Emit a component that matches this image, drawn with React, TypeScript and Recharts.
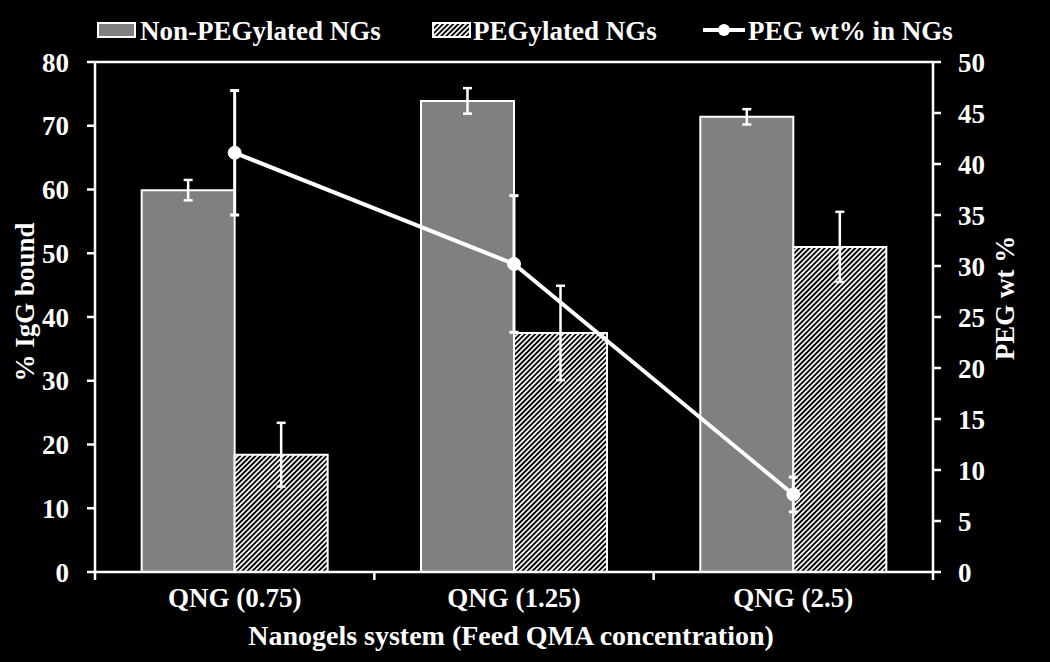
import React from "react";
import {
  ComposedChart,
  Bar,
  Line,
  XAxis,
  YAxis,
  ErrorBar,
  ReferenceLine,
} from "recharts";

const categories = ["QNG (0.75)", "QNG (1.25)", "QNG (2.5)"];
const nonPegylated = [59.9, 73.9, 71.4];
const nonPegylatedErr = [1.6, 2.0, 1.2];
const pegylated = [18.4, 37.5, 51.0];
const pegylatedErr = [5.0, 7.4, 5.5];
const pegWt = [41.1, 30.2, 7.6];
const pegWtErr = [6.1, 6.7, 1.7];
const leftTicks = [0, 10, 20, 30, 40, 50, 60, 70, 80];
const rightTicks = [0, 5, 10, 15, 20, 25, 30, 35, 40, 45, 50];

const data = categories.map((name, i) => ({
  name,
  nonPeg: nonPegylated[i],
  nonPegErr: nonPegylatedErr[i],
  peg: pegylated[i],
  pegErr: pegylatedErr[i],
  pegWt: pegWt[i],
  pegWtErr: pegWtErr[i],
}));

const W = 1050;
const H = 662;
const PLOT_LEFT = 95;
const PLOT_RIGHT = 933;
const PLOT_TOP = 62;
const PLOT_BOTTOM = 572;
const FONT = "'Liberation Serif', 'Times New Roman', serif";
const FS = 27;
const GRAY = "#808080";

const textStyle = { fontFamily: FONT, fontWeight: 700, fontSize: FS, fill: "#fff" };

function XTick(props: any) {
  const { x, y, payload, index } = props;
  const half = (PLOT_RIGHT - PLOT_LEFT) / categories.length / 2;
  return (
    <g>
      <line x1={x - half} y1={y} x2={x - half} y2={y + 8} stroke="#fff" strokeWidth={2.5} />
      {index === categories.length - 1 && (
        <line x1={x + half} y1={y} x2={x + half} y2={y + 8} stroke="#fff" strokeWidth={2.5} />
      )}
      <text x={x} y={y + 35} textAnchor="middle" style={textStyle}>
        {payload.value}
      </text>
    </g>
  );
}

function HatchDef({ id }: { id: string }) {
  return (
    <pattern id={id} width={3.6} height={3.6} patternUnits="userSpaceOnUse" patternTransform="rotate(45)">
      <rect width={3.6} height={3.6} fill="#000" />
      <rect width={1.7} height={3.6} fill="#fff" />
    </pattern>
  );
}

function LegendBar() {
  return (
    <svg width={W} height={50} style={{ position: "absolute", left: 0, top: 0 }}>
      <defs>
        <HatchDef id="hatchLegend" />
      </defs>
      <rect x={98} y={23} width={37} height={14} fill={GRAY} stroke="#fff" strokeWidth={2} />
      <text x={140} y={40} style={textStyle}>Non-PEGylated NGs</text>
      <rect x={433} y={23} width={37} height={14} fill="url(#hatchLegend)" stroke="#fff" strokeWidth={2} />
      <text x={473} y={40} style={textStyle}>PEGylated NGs</text>
      <line x1={703} y1={30} x2={745} y2={30} stroke="#fff" strokeWidth={4} />
      <circle cx={724} cy={30} r={6} fill="#fff" />
      <text x={748} y={40} style={textStyle}>PEG wt% in NGs</text>
    </svg>
  );
}

export default function App() {
  return (
    <div style={{ position: "absolute", left: 0, top: 0, width: W, height: H, background: "#000" }}>
      <ComposedChart
        width={W}
        height={H}
        data={data}
        margin={{ top: PLOT_TOP, right: 0, bottom: 0, left: 0 }}
        barGap={0}
        barCategoryGap="16.7%"
      >
        <defs>
          <HatchDef id="hatchBar" />
        </defs>
        <XAxis
          dataKey="name"
          height={H - PLOT_BOTTOM}
          axisLine={{ stroke: "#fff", strokeWidth: 2.5 }}
          tickLine={false}
          tickSize={0}
          tickMargin={0}
          tick={<XTick />}
          interval={0}
          label={() => (
            <text x={511} y={645} textAnchor="middle" style={{ ...textStyle, fontSize: 28 }}>
              Nanogels system (Feed QMA concentration)
            </text>
          )}
        />
        <YAxis
          yAxisId="left"
          width={PLOT_LEFT}
          domain={[0, 80]}
          ticks={leftTicks}
          interval={0}
          axisLine={{ stroke: "#fff", strokeWidth: 2.5 }}
          tickLine={{ stroke: "#fff", strokeWidth: 2.5 }}
          tickSize={8}
          tickMargin={18}
          tick={textStyle}
          label={() => (
            <text x={34} y={302} transform="rotate(-90 34 302)" textAnchor="middle" style={textStyle}>
              % IgG bound
            </text>
          )}
        />
        <YAxis
          yAxisId="right"
          orientation="right"
          width={W - PLOT_RIGHT}
          domain={[0, 50]}
          ticks={rightTicks}
          interval={0}
          axisLine={{ stroke: "#fff", strokeWidth: 2.5 }}
          tickLine={{ stroke: "#fff", strokeWidth: 2.5 }}
          tickSize={8}
          tickMargin={17}
          tick={textStyle}
          label={() => (
            <text x={1014} y={298} transform="rotate(-90 1014 298)" textAnchor="middle" style={textStyle}>
              PEG wt %
            </text>
          )}
        />
        <ReferenceLine yAxisId="left" y={80} stroke="#fff" strokeWidth={2.5} />
        <Bar yAxisId="left" dataKey="nonPeg" fill={GRAY} stroke="#fff" strokeWidth={2} isAnimationActive={false}>
          <ErrorBar dataKey="nonPegErr" direction="y" width={4.5} stroke="#fff" strokeWidth={2.5} />
        </Bar>
        <Bar yAxisId="left" dataKey="peg" fill="url(#hatchBar)" stroke="#fff" strokeWidth={2} isAnimationActive={false}>
          <ErrorBar dataKey="pegErr" direction="y" width={4.5} stroke="#fff" strokeWidth={2.5} />
        </Bar>
        <Line
          yAxisId="right"
          type="linear"
          dataKey="pegWt"
          stroke="#fff"
          strokeWidth={4}
          dot={{ r: 6.5, fill: "#fff", stroke: "#fff", strokeWidth: 1 }}
          activeDot={false}
          isAnimationActive={false}
        >
          <ErrorBar dataKey="pegWtErr" direction="y" width={4.5} stroke="#fff" strokeWidth={3} />
        </Line>
      </ComposedChart>
      <LegendBar />
    </div>
  );
}
